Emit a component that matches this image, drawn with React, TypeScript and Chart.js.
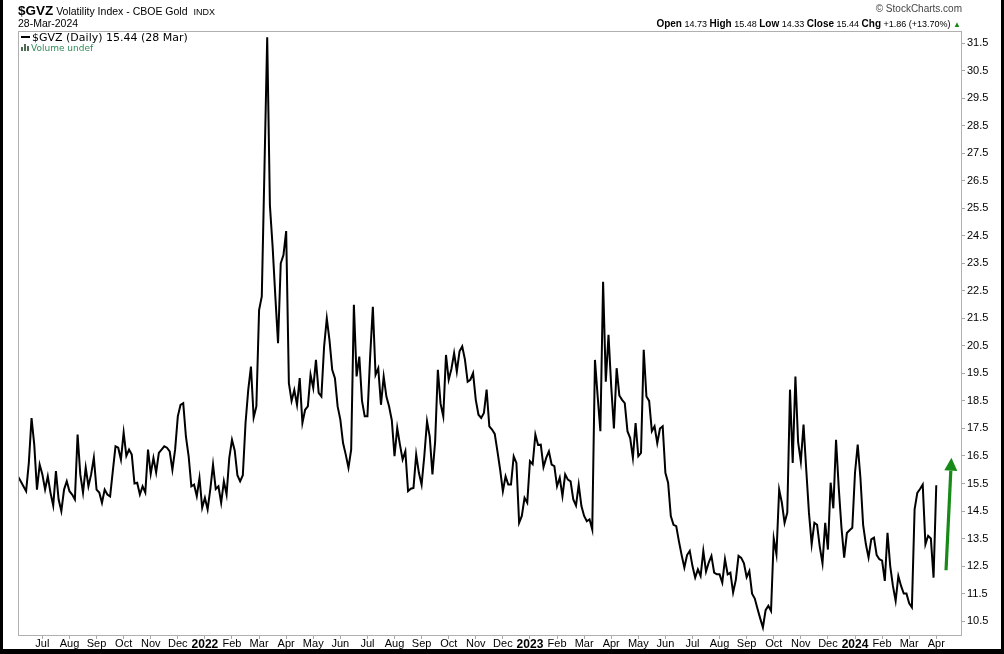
import React, { useEffect, useRef } from "react";
import { Chart, registerables } from "chart.js";

Chart.register(...registerables);

// Month tick labels, from Jul 2021 to Apr 2024
const monthLabels = [
  "Jul", "Aug", "Sep", "Oct", "Nov", "Dec",
  "2022", "Feb", "Mar", "Apr", "May", "Jun", "Jul", "Aug", "Sep", "Oct", "Nov", "Dec",
  "2023", "Feb", "Mar", "Apr", "May", "Jun", "Jul", "Aug", "Sep", "Oct", "Nov", "Dec",
  "2024", "Feb", "Mar", "Apr",
];

// one sample every ~2 trading days (10 samples per month); Jul 2021 begins at sample 9
const SAMPLES_PER_MONTH = 10;
const FIRST_MONTH_SAMPLE = 9;
const X_MAX = 348.5;

const Y_MIN = 9.96;
const Y_MAX = 31.94;
const yTicks = [
  10.5, 11.0, 11.5, 12.0, 12.5, 13.0, 13.5, 14.0, 14.5, 15.0, 15.5, 16.0, 16.5, 17.0,
  17.5, 18.0, 18.5, 19.0, 19.5, 20.0, 20.5, 21.0, 21.5, 22.0, 22.5, 23.0, 23.5, 24.0,
  24.5, 25.0, 25.5, 26.0, 26.5, 27.0, 27.5, 28.0, 28.5, 29.0, 29.5, 30.0, 30.5, 31.0, 31.5,
];

// $GVZ close values (Jun 2021 - Mar 2024)
const gvz2021 = [
  15.76, 15.58, 15.4, 15.22, 16.25, 17.88, 16.91, 15.28, 16.19,
  15.83, 15.28, 15.76, 15.16, 14.7, 15.95, 14.92, 14.5, 15.28, 15.58,
  15.22, 15.1, 14.92, 17.28, 15.83, 15.17, 16.08, 15.4, 15.83, 16.44,
  15.28, 15.17, 14.8, 15.28, 15.1, 15.03, 15.95, 16.85, 16.8, 16.37,
  17.35, 16.5, 16.73, 16.55, 15.5, 15.53, 15.1, 15.4, 15.17, 16.73,
  15.85, 16.43, 15.9, 16.61, 16.73, 16.85, 16.8, 16.67, 16.0, 16.73,
  17.94, 18.36, 18.42, 17.2, 16.49, 15.4, 15.46, 15.04, 15.7, 14.62,
];
const gvz2022 = [
  14.98, 14.56, 15.3, 16.19, 15.3, 15.4, 14.8, 15.58, 15.1, 16.43,
  17.09, 16.7, 15.8, 15.58, 15.8, 17.7, 18.9, 19.75, 17.9, 18.3,
  21.8, 22.3, 27.0, 31.71, 25.6, 24.1, 22.3, 20.6, 23.5, 23.8,
  24.67, 19.15, 18.5, 18.9, 18.36, 19.33, 17.7, 18.18, 18.3, 19.45,
  18.97, 19.99, 18.79, 18.66, 20.47, 21.5, 20.7, 19.63, 19.33, 18.3,
  17.82, 16.97, 16.55, 16.07, 16.73, 21.99, 19.39, 20.11, 18.5, 17.94,
  17.94, 20.11, 21.92, 19.45, 19.69, 18.36, 19.39, 18.66, 18.3, 17.8,
  16.49, 17.52, 16.91, 16.37, 16.67, 15.22, 15.31, 15.34, 16.55, 15.89,
  15.46, 16.5, 17.76, 17.2, 15.83, 17.03, 19.63, 18.4, 17.94, 20.17,
  19.27, 19.66, 20.24, 19.57, 20.3, 20.48, 20.0, 19.2, 19.27, 19.51,
  18.54, 18.0, 17.88, 18.06, 18.91, 17.58, 17.46, 17.3, 16.67, 16.0,
  15.22, 15.76, 15.46, 15.46, 16.49, 16.25, 14.07, 14.32, 14.98, 14.8,
];
const gvz2023 = [
  16.31, 16.2, 17.28, 16.9, 16.91, 16.1, 16.43, 16.67, 16.19, 16.13,
  15.4, 15.71, 15.04, 15.83, 15.64, 15.58, 14.92, 14.7, 15.46, 14.68,
  14.32, 14.13, 14.2, 13.83, 19.99, 18.66, 17.4, 22.83, 19.2, 20.9,
  19.03, 17.5, 19.69, 18.7, 18.54, 18.42, 17.4, 17.15, 16.43, 17.7,
  16.49, 16.61, 20.36, 18.66, 18.5, 17.4, 17.58, 16.97, 17.5, 17.58,
  15.89, 15.53, 14.32, 14.0, 13.95, 13.4, 12.9, 12.45, 12.9, 13.05,
  12.5, 12.08, 12.38, 12.14, 13.05, 12.3, 12.63, 12.87, 12.26, 12.2,
  12.2, 11.9, 12.75, 12.2, 12.26, 11.54, 12.0, 12.87, 12.8, 12.6,
  12.1, 12.32, 11.5, 11.32, 10.95, 10.6, 10.27, 10.9, 11.06, 10.87,
  13.5, 12.93, 15.28, 14.8, 14.07, 14.44, 18.91, 16.25, 19.39, 17.0,
  16.3, 17.64, 16.0, 14.44, 13.29, 14.07, 14.0, 13.2, 12.6, 14.07,
  13.1, 15.53, 14.6, 17.09, 15.34, 13.9, 12.81, 13.7, 13.8, 13.89,
];
const gvz2024 = [
  15.89, 16.91, 15.71, 14.0, 13.3, 12.81, 13.47, 13.53, 12.9, 12.75,
  12.7, 11.96, 13.71, 12.5, 11.78, 11.24, 12.14, 11.78, 11.5, 11.5,
  11.15, 11.0, 14.56, 15.16, 15.3, 15.46, 13.29, 13.6, 13.5, 12.08,
  15.44,
];

// green annotation arrow (sample index, value)
const arrowTail = { x: 342.6, y: 12.35 };
const arrowTip = { x: 344.6, y: 16.44 };

const FONT = "'Liberation Sans', Arial, Helvetica, sans-serif";
const VFONT = "'DejaVu Sans', Verdana, sans-serif";

export default function App() {
  const ref = useRef<HTMLCanvasElement | null>(null);

  useEffect(() => {
    document.body.style.margin = "0";
    const canvas = ref.current;
    if (!canvas) return;
    const values = [...gvz2021, ...gvz2022, ...gvz2023, ...gvz2024];
    const points = values.map((v, i) => ({ x: i, y: v }));

    const monthOf = (v: number) => Math.round((v - FIRST_MONTH_SAMPLE) / SAMPLES_PER_MONTH);

    const framePlugin = {
      id: "frame",
      afterDraw(chart: any) {
        const { ctx, chartArea: a } = chart;
        ctx.save();
        ctx.strokeStyle = "#b0b0b0";
        ctx.lineWidth = 1;
        ctx.strokeRect(a.left + 0.5, a.top + 0.5, a.right - a.left - 1, a.bottom - a.top - 1);
        ctx.restore();
      },
    };

    const arrowPlugin = {
      id: "arrow",
      afterDatasetsDraw(chart: any) {
        const { ctx } = chart;
        const xs = chart.scales.x;
        const ys = chart.scales.y;
        const x0 = xs.getPixelForValue(arrowTail.x);
        const y0 = ys.getPixelForValue(arrowTail.y);
        const x1 = xs.getPixelForValue(arrowTip.x);
        const y1 = ys.getPixelForValue(arrowTip.y);
        const ang = Math.atan2(y1 - y0, x1 - x0);
        const headLen = 13;
        const half = 6.5;
        const bx = x1 - headLen * Math.cos(ang);
        const by = y1 - headLen * Math.sin(ang);
        ctx.save();
        ctx.strokeStyle = "#178a17";
        ctx.fillStyle = "#178a17";
        ctx.lineWidth = 3.2;
        ctx.beginPath();
        ctx.moveTo(x0, y0);
        ctx.lineTo(bx, by);
        ctx.stroke();
        ctx.beginPath();
        ctx.moveTo(x1, y1);
        ctx.lineTo(bx + half * Math.sin(ang), by - half * Math.cos(ang));
        ctx.lineTo(bx - half * Math.sin(ang), by + half * Math.cos(ang));
        ctx.closePath();
        ctx.fill();
        ctx.restore();
      },
    };

    const chart = new Chart(canvas, {
      type: "line",
      data: {
        datasets: [
          {
            data: points,
            borderColor: "#000000",
            borderWidth: 2,
            pointRadius: 0,
            tension: 0,
            fill: false,
          },
        ],
      },
      options: {
        animation: false,
        responsive: false,
        maintainAspectRatio: false,
        layout: { padding: { left: 18, top: 31, right: 0, bottom: 0 } },
        plugins: { legend: { display: false }, tooltip: { enabled: false } },
        scales: {
          x: {
            type: "linear",
            position: "bottom",
            min: 0,
            max: X_MAX,
            afterBuildTicks: (s: any) => {
              s.ticks = monthLabels.map((_, m) => ({ value: FIRST_MONTH_SAMPLE + m * SAMPLES_PER_MONTH }));
            },
            afterFit: (s: any) => {
              s.height = 18;
            },
            grid: { display: true, drawOnChartArea: false, drawTicks: true, tickLength: 3, color: "#a8a8a8" },
            border: { display: false },
            ticks: {
              autoSkip: false,
              maxRotation: 0,
              minRotation: 0,
              padding: -2,
              color: "#000000",
              font: (ctx: any) => {
                const lbl = ctx.tick ? monthLabels[monthOf(ctx.tick.value)] : "";
                const year = /^\d{4}$/.test(lbl || "");
                return { family: FONT, size: year ? 12 : 11, weight: year ? "bold" : "normal" };
              },
              callback: (v: any) => monthLabels[monthOf(Number(v))] ?? "",
            },
          },
          y: {
            type: "linear",
            position: "right",
            min: Y_MIN,
            max: Y_MAX,
            afterBuildTicks: (s: any) => {
              s.ticks = yTicks.map((v) => ({ value: v }));
            },
            afterFit: (s: any) => {
              s.width = 42;
            },
            grid: { display: true, drawOnChartArea: false, drawTicks: true, tickLength: 3, color: "#a8a8a8" },
            border: { display: false },
            ticks: {
              padding: 2,
              color: "#000000",
              font: { family: FONT, size: 11 },
              callback: (v: any) => Number(v).toFixed(1),
            },
          },
        },
      },
      plugins: [framePlugin, arrowPlugin],
    } as any);

    return () => chart.destroy();
  }, []);

  const abs = (s: React.CSSProperties): React.CSSProperties => ({ position: "absolute", whiteSpace: "nowrap", ...s });
  const lbl: React.CSSProperties = { fontSize: 10, fontWeight: "bold" };

  return (
    <div style={{ position: "relative", width: 1004, height: 654, background: "#fff", overflow: "hidden", fontFamily: FONT }}>
      <canvas ref={ref} width={1004} height={654} style={{ position: "absolute", left: 0, top: 0, display: "block" }} />

      {/* header left */}
      <div style={abs({ left: 18, top: 2, color: "#000", lineHeight: "16px" })}>
        <span style={{ fontSize: 13.5, fontWeight: "bold" }}>$GVZ</span>
        <span style={{ fontSize: 10.5 }}> Volatility Index - CBOE Gold</span>
        <span style={{ fontSize: 9, marginLeft: 6 }}>INDX</span>
      </div>
      <div style={abs({ left: 18, top: 17, fontSize: 10.5, color: "#000", lineHeight: "13px" })}>28-Mar-2024</div>

      {/* header right */}
      <div style={abs({ right: 42, top: 3, fontSize: 10, color: "#444", lineHeight: "12px" })}>© StockCharts.com</div>
      <div style={abs({ right: 43, top: 17, fontSize: 9, color: "#000", lineHeight: "13px" })}>
        <b style={lbl}>Open</b> 14.73 <b style={lbl}>High</b> 15.48 <b style={lbl}>Low</b> 14.33{" "}
        <b style={lbl}>Close</b> 15.44 <b style={lbl}>Chg</b> +1.86 (+13.70%){" "}
        <span style={{ color: "#178a17", fontSize: 8 }}>▲</span>
      </div>

      {/* legend inside plot */}
      <div style={abs({ left: 21, top: 36, width: 9, height: 2, background: "#000" })} />
      <div style={abs({ left: 32, top: 31, fontSize: 11, fontFamily: VFONT, color: "#000", lineHeight: "13px" })}>
        $GVZ (Daily) 15.44 (28 Mar)
      </div>
      <div style={abs({ left: 21, top: 47, width: 2, height: 4, background: "#4d6b55" })} />
      <div style={abs({ left: 24, top: 44, width: 2, height: 7, background: "#4d6b55" })} />
      <div style={abs({ left: 27, top: 46, width: 2, height: 5, background: "#4d6b55" })} />
      <div style={abs({ left: 31, top: 43, fontSize: 9, fontFamily: VFONT, color: "#2e8b57", lineHeight: "11px" })}>
        Volume undef
      </div>

      {/* outer black frame */}
      <div style={abs({ left: 0, top: 0, width: 3, height: 654, background: "#000" })} />
      <div style={abs({ right: 0, top: 0, width: 3, height: 654, background: "#000" })} />
      <div style={abs({ left: 0, bottom: 0, width: 1004, height: 5, background: "#000" })} />
    </div>
  );
}
